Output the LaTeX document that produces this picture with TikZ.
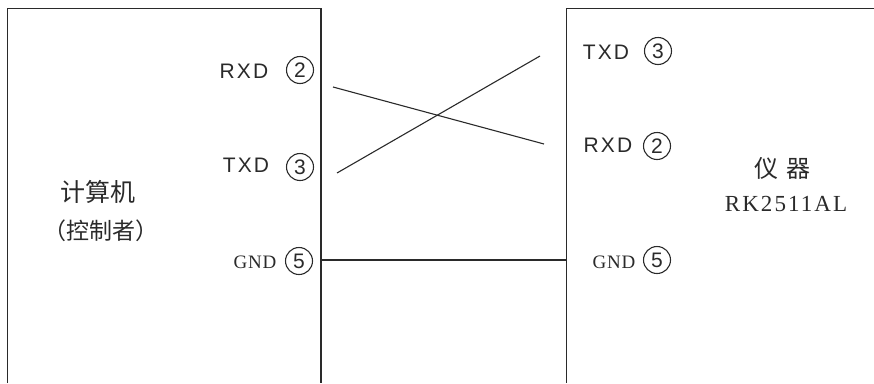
\documentclass[tikz,border=0pt]{standalone}
\usepackage{fontspec}
\setmainfont{Liberation Sans}
\newfontfamily\cjkfont{Noto Sans CJK SC}
\newfontfamily\gndfont[LetterSpace=4]{Liberation Serif}
\newfontfamily\rkfont[LetterSpace=9]{Liberation Serif}
\newfontfamily\pinfont[LetterSpace=10]{Liberation Sans}
\definecolor{ink}{HTML}{2A2A2A}
\tikzset{
  box/.style={draw=ink, line width=1.4pt},
  wire/.style={draw=ink, line width=1.1pt},
  pinlabel/.style={inner sep=0pt, text=ink, font=\pinfont\fontsize{21}{21}\selectfont},
  gndlabel/.style={inner sep=0pt, text=ink, font=\gndfont\fontsize{19}{19}\selectfont},
  pincirc/.style={draw=ink, circle, line width=1.1pt, minimum size=27pt, inner sep=0pt, text=ink, font=\fontsize{21}{21}\selectfont},
  cjklabel/.style={inner sep=0pt, text=ink, font=\cjkfont\fontsize{25}{25}\selectfont},
}
\begin{document}
\begin{tikzpicture}[x=1pt, y=-1pt]
\useasboundingbox (0,0) rectangle (874,383);
% boxes (open at the page edges)
\draw[box] (7.5,383) -- (7.5,8.5) -- (321,8.5) -- (321,383);
\draw[box] (874,8.5) -- (566.5,8.5) -- (566.5,383);
% left labels
\node[pinlabel] (lrxd) at (244,71) {RXD};
\node[pincirc] (l2) at (300,70) {2};
\node[pinlabel] (ltxd) at (246,165) {TXD};
\node[pincirc] (l3) at (300,167) {3};
\node[gndlabel] (lgnd) at (255,262) {GND};
\node[pincirc] (l5) at (299,261) {5};
\node[cjklabel] (pc1) at (98,192) {计算机};
\node[cjklabel, font=\cjkfont\fontsize{23}{23}\selectfont] (pc2) at (101,231) {（控制者）};
% right labels
\node[pinlabel] (rtxd) at (606,52) {TXD};
\node[pincirc] (r3) at (658,51) {3};
\node[pinlabel] (rrxd) at (608,145) {RXD};
\node[pincirc] (r2) at (657,146) {2};
\node[gndlabel] (rgnd) at (614,262) {GND};
\node[pincirc] (r5) at (657,260) {5};
\node[cjklabel, font=\cjkfont\fontsize{24}{24}\selectfont] (ins1) at (782,168) {仪\hspace{8pt}器};
\node[inner sep=0pt, text=ink, font=\rkfont\fontsize{23}{23}\selectfont] (ins2) at (786,204) {RK2511AL};
% connector end points
\coordinate (a1) at (333,87);
\coordinate (a2) at (544,144);
\coordinate (b1) at (337,173);
\coordinate (b2) at (540,56);
\coordinate (g1) at (321,260);
\coordinate (g2) at (566.5,260);
\draw[wire] (a1) -- (a2);
\draw[wire] (b1) -- (b2);
\draw[wire] (g1) -- (g2);
\end{tikzpicture}
\end{document}
